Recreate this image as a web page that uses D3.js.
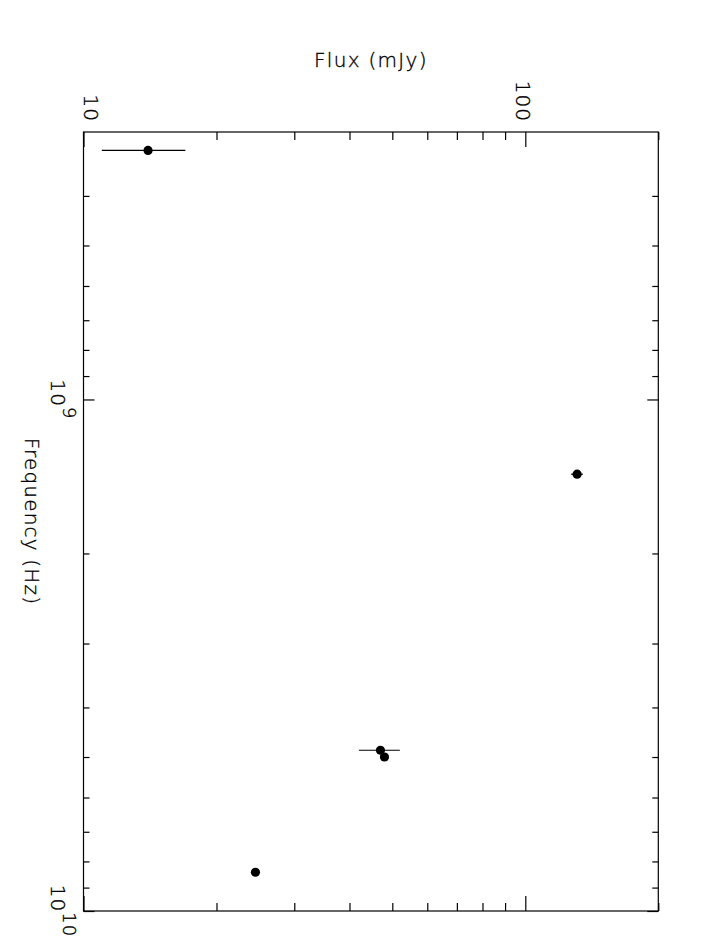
<!DOCTYPE html>
<html>
<head>
<meta charset="utf-8">
<script src="https://cdn.jsdelivr.net/npm/d3@7"></script>
<style>
  body { margin: 0; background: #fff; }
  text { font-family: "DejaVu Sans", "Liberation Sans", sans-serif; font-weight: 200; fill: #000; stroke: #000; stroke-width: 0.35; }
</style>
</head>
<body>
<svg id="chart"></svg>
<script>
// spectrum data (frequency in Hz, flux in mJy)
const freqs = [3.26e8, 1.4e9, 4.85e9, 5.0e9, 8.4e9];
const fluxes = [14, 131, 47, 48, 24.5];
const fluxErr = [3, 4, 5, 0, 0];

// ticks
const fluxMajor = [10, 100];
const fluxMinor = [20, 30, 40, 50, 60, 70, 80, 90, 200];
const fluxLabels = ["10", "100"];
const freqMajor = [1e9, 1e10];
const freqMinor = [4e8, 5e8, 6e8, 7e8, 8e8, 9e8, 2e9, 3e9, 4e9, 5e9, 6e9, 7e9, 8e9, 9e9];
const freqExp = ["9", "10"];

const width = 701;
const height = 951;
const boxL = 83.5, boxR = 658.3, boxT = 132, boxB = 911;

const svg = d3.select("#chart")
    .attr("width", width)
    .attr("height", height);

// flux runs across, frequency runs down (plot is turned on its side)
const x = d3.scaleLog().domain([10, 200]).range([boxL, boxR]);
const y = d3.scaleLog().domain([3e8, 1e10]).range([boxT, boxB]);

// frame
svg.append("rect")
    .attr("x", boxL).attr("y", boxT)
    .attr("width", boxR - boxL).attr("height", boxB - boxT)
    .attr("fill", "none")
    .attr("stroke", "#000")
    .attr("stroke-width", 1.2);

function addAxis(axis, tx, ty) {
    const g = svg.append("g")
        .attr("transform", `translate(${tx},${ty})`)
        .call(axis);
    g.select(".domain").remove();
    g.selectAll("line").attr("stroke", "#000").attr("stroke-width", 1.2);
    return g;
}

// flux axis ticks, top and bottom, pointing inwards
addAxis(d3.axisTop(x).tickValues(fluxMajor).tickSize(-15).tickFormat(""), 0, boxT);
addAxis(d3.axisTop(x).tickValues(fluxMinor).tickSize(-8).tickFormat(""), 0, boxT);
addAxis(d3.axisBottom(x).tickValues(fluxMajor).tickSize(-15).tickFormat(""), 0, boxB);
addAxis(d3.axisBottom(x).tickValues(fluxMinor).tickSize(-8).tickFormat(""), 0, boxB);

// frequency axis ticks, left and right
addAxis(d3.axisLeft(y).tickValues(freqMajor).tickSize(-11).tickFormat(""), boxL, 0);
addAxis(d3.axisLeft(y).tickValues(freqMinor).tickSize(-6).tickFormat(""), boxL, 0);
addAxis(d3.axisRight(y).tickValues(freqMajor).tickSize(-11).tickFormat(""), boxR, 0);
addAxis(d3.axisRight(y).tickValues(freqMinor).tickSize(-6).tickFormat(""), boxR, 0);

// flux tick labels (rotated)
fluxMajor.forEach((v, i) => {
    const bx = Math.max(x(v) - 9, boxL);
    svg.append("text")
        .attr("transform", `translate(${bx},122) rotate(90)`)
        .attr("text-anchor", "end")
        .attr("font-size", 20)
        .attr("letter-spacing", 1)
        .text(fluxLabels[i]);
});

// frequency tick labels 10^n (rotated)
freqMajor.forEach((v, i) => {
    const t = svg.append("text")
        .attr("transform", `translate(51,${y(v)}) rotate(90)`)
        .attr("text-anchor", "middle")
        .attr("font-size", 20)
        .attr("letter-spacing", 1);
    t.append("tspan").text("10");
    t.append("tspan").attr("dy", -12).attr("font-size", 18).text(freqExp[i]);
});

// axis titles
svg.append("text")
    .attr("x", (boxL + boxR) / 2)
    .attr("y", 67)
    .attr("text-anchor", "middle")
    .attr("font-size", 20)
    .attr("letter-spacing", 1.3)
    .text("Flux (mJy)");

svg.append("text")
    .attr("transform", `translate(25,${(boxT + boxB) / 2}) rotate(90)`)
    .attr("text-anchor", "middle")
    .attr("font-size", 20)
    .attr("letter-spacing", 1.2)
    .text("Frequency (Hz)");

// error bars
svg.append("g")
    .selectAll("line")
    .data(freqs.map((f, i) => ({ f: f, s: fluxes[i], e: fluxErr[i] })).filter(d => d.e > 0))
    .enter()
    .append("line")
    .attr("x1", d => x(d.s - d.e))
    .attr("x2", d => x(d.s + d.e))
    .attr("y1", d => y(d.f))
    .attr("y2", d => y(d.f))
    .attr("stroke", "#000")
    .attr("stroke-width", 1.2);

// points
svg.append("g")
    .selectAll("circle")
    .data(freqs.map((f, i) => ({ f: f, s: fluxes[i] })))
    .enter()
    .append("circle")
    .attr("cx", d => x(d.s))
    .attr("cy", d => y(d.f))
    .attr("r", 4.6)
    .attr("fill", "#000");
</script>
</body>
</html>
